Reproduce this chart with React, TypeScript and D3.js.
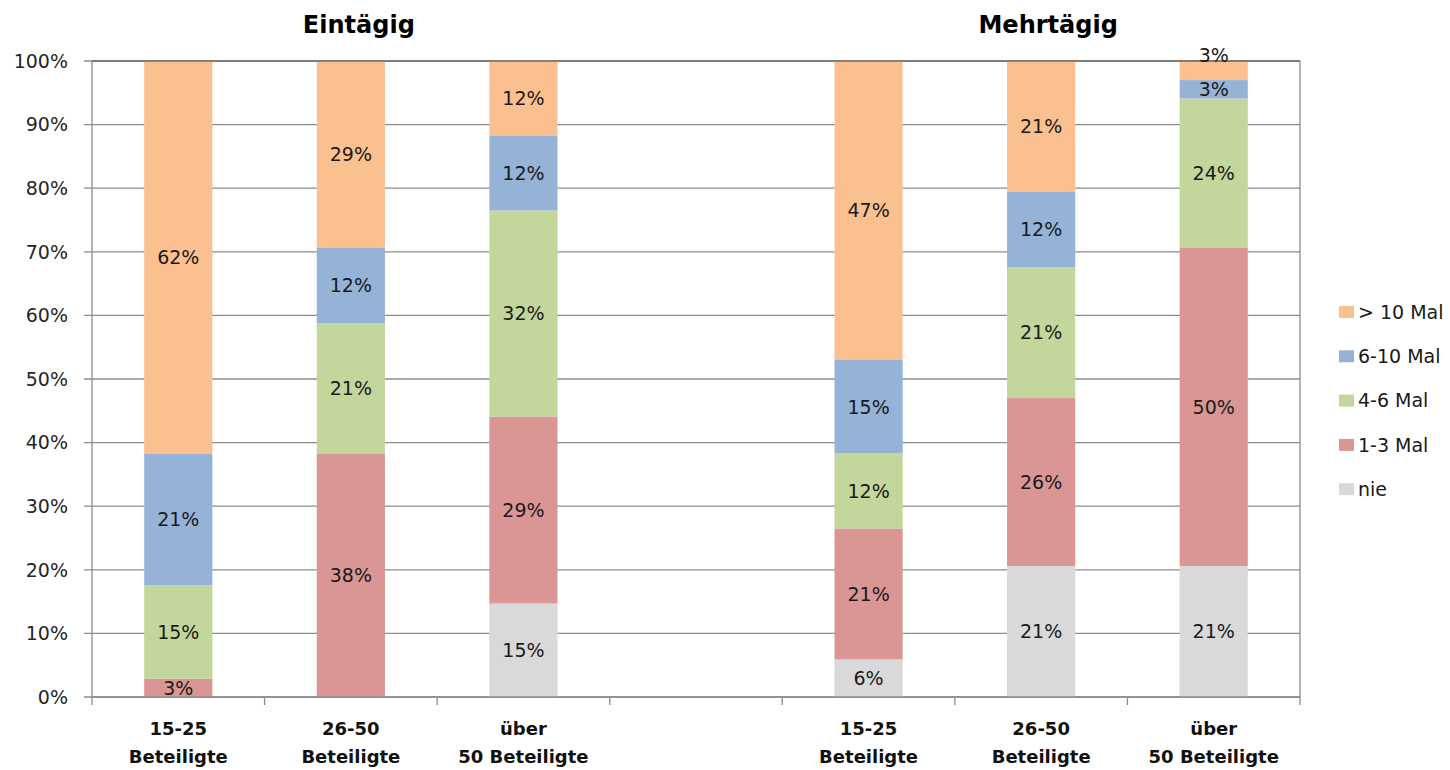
import React from "react";
import * as d3 from "d3";

const groupTitles = ["Eintägig", "Mehrtägig"];
const catLine1 = ["15-25", "26-50", "über", "", "15-25", "26-50", "über"];
const catLine2 = ["Beteiligte", "Beteiligte", "50 Beteiligte", "", "Beteiligte", "Beteiligte", "50 Beteiligte"];
const seriesNames = ["nie", "1-3 Mal", "4-6 Mal", "6-10 Mal", "> 10 Mal"];
const seriesColors = ["#D9D9D9", "#D99694", "#C3D69B", "#95B3D7", "#FAC090"];
const nie = [0, 0, 14.7, 0, 5.9, 20.6, 20.6];
const mal13 = [2.9, 38.2, 29.4, 0, 20.6, 26.4, 50.0];
const mal46 = [14.7, 20.6, 32.4, 0, 11.8, 20.6, 23.5];
const mal610 = [20.6, 11.8, 11.8, 0, 14.7, 11.8, 2.9];
const mal10 = [61.8, 29.4, 11.8, 0, 47.1, 20.6, 2.9];
const hasBar = [true, true, true, false, true, true, true];
const yTicks = [0, 10, 20, 30, 40, 50, 60, 70, 80, 90, 100];

const W = 1450, H = 770;
const M = { left: 92, right: 1300, top: 61, bottom: 697 };
const FONT = "'DejaVu Sans', sans-serif";

export default function App() {
  const idx = catLine1.map((_, i) => i);
  const x = d3.scaleBand<number>().domain(idx).range([M.left, M.right]).paddingInner(0).paddingOuter(0);
  const y = d3.scaleLinear().domain([0, 100]).range([M.bottom, M.top]);
  const barW = x.bandwidth() * 0.395;

  const rows = idx.map((i) => ({
    i,
    s0: nie[i], s1: mal13[i], s2: mal46[i], s3: mal610[i], s4: mal10[i],
  }));
  const stack = d3.stack<any>().keys(["s0", "s1", "s2", "s3", "s4"]);
  const layers = stack(rows);

  // label positions with simple dodge
  const labels: { x: number; y: number; text: string }[] = [];
  idx.forEach((i) => {
    if (!hasBar[i]) return;
    let prevY = Infinity;
    layers.forEach((layer) => {
      const d = layer[i];
      const v = d[1] - d[0];
      if (v <= 0) return;
      let ly = (y(d[0]) + y(d[1])) / 2;
      if (prevY - ly < 34) ly = prevY - 34;
      prevY = ly;
      labels.push({ x: (x(i) as number) + x.bandwidth() / 2, y: ly, text: Math.round(v) + "%" });
    });
  });

  const boundaries = [...idx.map((i) => x(i) as number), M.right];
  const groupCenters = [
    ((x(0) as number) + (x(2) as number) + x.bandwidth()) / 2 + 8,
    ((x(4) as number) + (x(6) as number) + x.bandwidth()) / 2 + 7,
  ];
  const legendOrder = [4, 3, 2, 1, 0];

  return (
    <svg width={W} height={H} style={{ position: "absolute", left: 0, top: 0, background: "#fff" }} fontFamily={FONT}>
      <rect x={0} y={0} width={W} height={H} fill="#fff" />
      {/* gridlines */}
      {yTicks.map((t) => (
        <line key={"g" + t} x1={M.left - 8} x2={M.right} y1={y(t)} y2={y(t)} stroke="#8c8c8c" strokeWidth={1.3} />
      ))}
      {/* bars */}
      {layers.map((layer, si) =>
        layer.map((d, i) =>
          hasBar[i] && d[1] - d[0] > 0 ? (
            <rect
              key={si + "-" + i}
              x={(x(i) as number) + (x.bandwidth() - barW) / 2}
              y={y(d[1])}
              width={barW}
              height={y(d[0]) - y(d[1])}
              fill={seriesColors[si]}
            />
          ) : null
        )
      )}
      {/* axes */}
      <line x1={M.left} x2={M.left} y1={M.top} y2={M.bottom} stroke="#8c8c8c" strokeWidth={1.3} />
      <line x1={M.right} x2={M.right} y1={M.top} y2={M.bottom} stroke="#8c8c8c" strokeWidth={1.3} />
      <line x1={M.left} x2={M.right} y1={M.top} y2={M.top} stroke="#6e6e6e" strokeWidth={1.3} />
      <line x1={M.left} x2={M.right} y1={M.bottom} y2={M.bottom} stroke="#8c8c8c" strokeWidth={1.3} />
      {boundaries.map((b, k) => (
        <line key={"t" + k} x1={b} x2={b} y1={M.bottom} y2={M.bottom + 8} stroke="#8c8c8c" strokeWidth={1.3} />
      ))}
      {yTicks.map((t) => (
        <text key={"yl" + t} x={68} y={y(t)} dy="0.36em" textAnchor="end" fontSize={19} fill="#262626">
          {t + "%"}
        </text>
      ))}
      {/* data labels */}
      {labels.map((l, k) => (
        <text key={"l" + k} x={l.x} y={l.y} dy="0.36em" textAnchor="middle" fontSize={19} fill="#1a1a1a">
          {l.text}
        </text>
      ))}
      {/* category labels */}
      {idx.map((i) => (
        <g key={"c" + i}>
          <text x={(x(i) as number) + x.bandwidth() / 2} y={735} textAnchor="middle" fontSize={18} fontWeight="bold" fill="#111">
            {catLine1[i]}
          </text>
          <text x={(x(i) as number) + x.bandwidth() / 2} y={763} textAnchor="middle" fontSize={18} fontWeight="bold" fill="#111">
            {catLine2[i]}
          </text>
        </g>
      ))}
      {/* titles */}
      {groupTitles.map((t, k) => (
        <text key={"ti" + k} x={groupCenters[k]} y={33} textAnchor="middle" fontSize={24} fontWeight="bold" fill="#000">
          {t}
        </text>
      ))}
      {/* legend */}
      {legendOrder.map((si, k) => {
        const ly = 312 + k * 44.3;
        return (
          <g key={"lg" + si}>
            <rect x={1339} y={ly - 6} width={15} height={12} fill={seriesColors[si]} />
            <text x={1358} y={ly} dy="0.36em" fontSize={19} fill="#1a1a1a">
              {seriesNames[si]}
            </text>
          </g>
        );
      })}
    </svg>
  );
}
